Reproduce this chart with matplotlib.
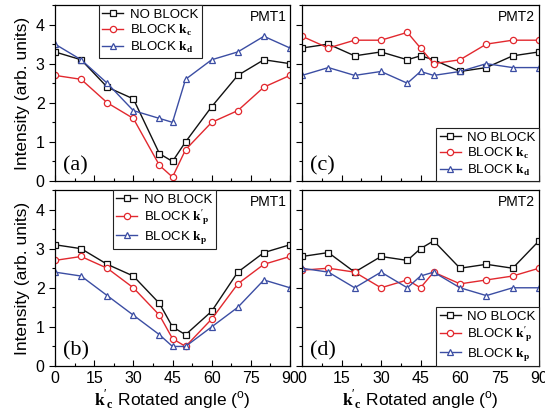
import numpy as np
import matplotlib
matplotlib.use("Agg")
import matplotlib.pyplot as plt
from matplotlib.ticker import MultipleLocator

plt.rcParams["font.family"] = ["Liberation Sans", "DejaVu Sans"]
plt.rcParams["mathtext.fontset"] = "custom"
plt.rcParams["mathtext.bf"] = "Liberation Serif:bold"
plt.rcParams["mathtext.rm"] = "Liberation Sans"

angle = [0, 10, 20, 30, 40, 45, 50, 60, 70, 80, 90]

# (a) PMT1, blocking k_c / k_d
a_none = [3.3, 3.1, 2.4, 2.1, 0.7, 0.5, 1.0, 1.9, 2.7, 3.1, 3.0]
a_kc = [2.7, 2.6, 2.0, 1.6, 0.4, 0.1, 0.8, 1.5, 1.8, 2.4, 2.7]
a_kd = [3.5, 3.1, 2.5, 1.8, 1.6, 1.5, 2.6, 3.1, 3.3, 3.7, 3.4]

# (c) PMT2, blocking k_c / k_d
c_none = [3.4, 3.5, 3.2, 3.3, 3.1, 3.2, 3.1, 2.8, 2.9, 3.2, 3.3]
c_kc = [3.7, 3.4, 3.6, 3.6, 3.8, 3.4, 3.0, 3.1, 3.5, 3.6, 3.6]
c_kd = [2.7, 2.9, 2.7, 2.8, 2.5, 2.8, 2.7, 2.8, 3.0, 2.9, 2.9]

# (b) PMT1, blocking k'_p / k_p
b_none = [3.1, 3.0, 2.6, 2.3, 1.6, 1.0, 0.8, 1.4, 2.4, 2.9, 3.1]
b_kpp = [2.7, 2.8, 2.5, 2.0, 1.3, 0.7, 0.5, 1.2, 2.1, 2.6, 2.8]
b_kp = [2.4, 2.3, 1.8, 1.3, 0.8, 0.5, 0.5, 1.0, 1.5, 2.2, 2.0]

# (d) PMT2, blocking k'_p / k_p
d_none = [2.8, 2.9, 2.4, 2.8, 2.7, 3.0, 3.2, 2.5, 2.6, 2.5, 3.2]
d_kpp = [2.45, 2.5, 2.4, 2.0, 2.2, 2.0, 2.4, 2.1, 2.2, 2.3, 2.5]
d_kp = [2.5, 2.4, 2.0, 2.4, 2.0, 2.3, 2.4, 2.0, 1.8, 2.0, 2.0]

lbl_cd = ["NO BLOCK", r"BLOCK $\mathbf{k}_\mathbf{c}$", r"BLOCK $\mathbf{k}_\mathbf{d}$"]
lbl_p = ["NO BLOCK", r"BLOCK $\mathbf{k}'_\mathbf{p}$", r"BLOCK $\mathbf{k}_\mathbf{p}$"]

BLACK, RED, BLUE = "#111111", "#e2282e", "#3b4da3"
styles = [(BLACK, "s"), (RED, "o"), (BLUE, "^")]

W, H = 545, 416
fig = plt.figure(figsize=(W / 100, H / 100), dpi=100)


def px_axes(x0, y0, x1, y1):
    return fig.add_axes([x0 / W, 1 - y1 / H, (x1 - x0) / W, (y1 - y0) / H])


panels = [
    (px_axes(55, 5, 290, 181), (a_none, a_kc, a_kd), lbl_cd, "(a)", "PMT1",
     dict(loc="upper left", bbox_to_anchor=(0.187, 1.0)), True, False),
    (px_axes(302, 5, 539, 181), (c_none, c_kc, c_kd), lbl_cd, "(c)", "PMT2",
     dict(loc="lower right", bbox_to_anchor=(1.0, 0.0)), False, False),
    (px_axes(55, 190, 290, 366), (b_none, b_kpp, b_kp), lbl_p, "(b)", "PMT1",
     dict(loc="upper left", bbox_to_anchor=(0.247, 1.0)), True, True),
    (px_axes(302, 190, 539, 366), (d_none, d_kpp, d_kp), lbl_p, "(d)", "PMT2",
     dict(loc="lower right", bbox_to_anchor=(1.0, 0.0)), False, True),
]

for ax, series, labels, tag, pmt, legkw, left, bottom in panels:
    for ys, (col, mk), lab in zip(series, styles, labels):
        ax.plot(angle, ys, color=col, marker=mk, markersize=4.5, markerfacecolor="white",
                markeredgecolor=col, markeredgewidth=0.9, linewidth=1.0, label=lab)
    ax.set_xlim(0, 90)
    ax.set_ylim(0, 4.5)
    ax.xaxis.set_major_locator(MultipleLocator(15))
    ax.xaxis.set_minor_locator(MultipleLocator(7.5))
    ax.yaxis.set_major_locator(MultipleLocator(1))
    ax.yaxis.set_minor_locator(MultipleLocator(0.5))
    ax.tick_params(axis="x", which="both", direction="in", labelsize=11.5)
    ax.tick_params(axis="y", which="both", direction="out", labelsize=11.5)
    ax.tick_params(which="major", length=4, width=0.8)
    ax.tick_params(which="minor", length=2.5, width=0.8)
    for s in ax.spines.values():
        s.set_linewidth(0.9)
    if not left:
        ax.tick_params(axis="y", labelleft=False)
    else:
        ax.set_ylabel("Intensity (arb. units)", fontsize=12.5, labelpad=4)
    if not bottom:
        ax.tick_params(axis="x", labelbottom=False)
    else:
        ax.set_xlabel(r"$\mathbf{k}'_\mathbf{c}$ Rotated angle ($^\mathrm{o}$)", fontsize=12.5, labelpad=1)
    ax.text(0.035, 0.03, tag, transform=ax.transAxes, fontsize=16,
            family="Liberation Serif", ha="left", va="bottom")
    ax.text(0.985, 0.93, pmt, transform=ax.transAxes, fontsize=10, ha="right", va="center")
    leg = ax.legend(fontsize=9.5, handlelength=1.6, handletextpad=0.5, labelspacing=0.15,
                    borderpad=0.25, borderaxespad=0, fancybox=False, framealpha=1, **legkw)
    leg.get_frame().set_edgecolor("#222222")
    leg.get_frame().set_linewidth(0.8)

fig.savefig("out.png", dpi=100)
